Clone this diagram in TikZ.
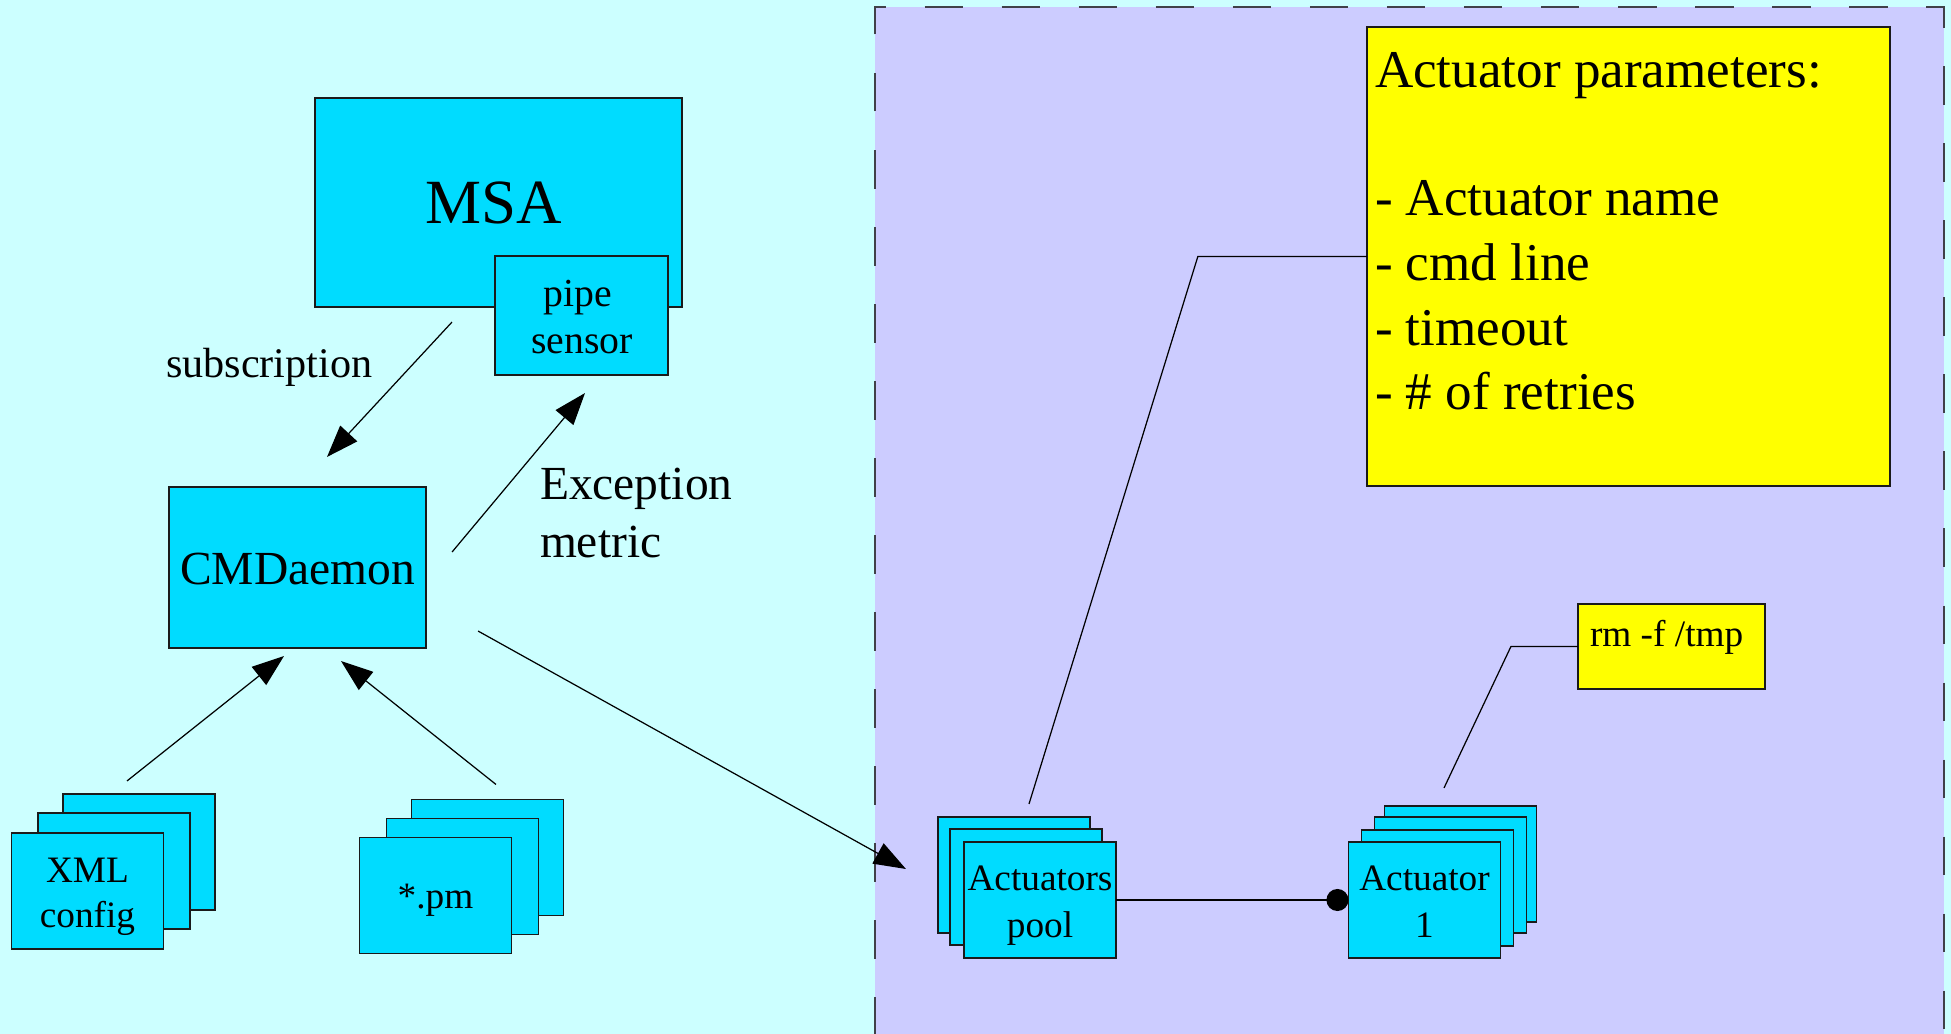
\documentclass[tikz,border=0pt]{standalone}
\usepackage{fontspec}
\setmainfont{Liberation Serif}
\usetikzlibrary{arrows.meta,calc}
\definecolor{bgcyan}{HTML}{CCFFFF}
\definecolor{bgviolet}{HTML}{CCCCFF}
\definecolor{boxcyan}{HTML}{00DCFF}
\definecolor{noteyellow}{HTML}{FFFF00}
\definecolor{edgecol}{HTML}{1A1A1A}
\definecolor{dashcol}{HTML}{404048}
\newcommand\fsSmall{\fontsize{10.6pt}{12.7pt}\selectfont}
\newcommand\fsPipe{\fontsize{11.3pt}{13.5pt}\selectfont}
\newcommand\fsSub{\fontsize{12pt}{14.4pt}\selectfont}
\newcommand\fsMid{\fontsize{13.5pt}{16pt}\selectfont}
\newcommand\fsParam{\fontsize{15.1pt}{18pt}\selectfont}
\newcommand\fsMSA{\fontsize{17.9pt}{21pt}\selectfont}
\begin{document}
\begin{tikzpicture}[x=0.01cm,y=-0.01cm,
  cbox/.style={draw=edgecol, line width=0.4pt, fill=boxcyan, inner sep=0pt, outer sep=0pt},
  stackbox/.style={cbox, minimum width=1.52cm, minimum height=1.16cm},
  notebox/.style={draw=edgecol, line width=0.4pt, fill=noteyellow, inner sep=0pt, outer sep=0pt},
  lbl/.style={inner sep=0pt, outer sep=0pt, text=black},
  conn/.style={draw=black, line width=0.35pt},
  arr/.style={conn, -{Triangle[length=0.32cm, width=0.23cm]}},
  dotarr/.style={conn, -{Circle[length=0.22cm]}},
  region/.style={draw=dashcol, line width=0.45pt, dash pattern=on 0.385cm off 0.385cm, dash phase=0.02cm}]
\useasboundingbox (0,0) rectangle (1951,1034);
\fill[bgcyan] (0,0) rectangle (1951,1034);
% right-hand region
\fill[bgviolet] (875,7) rectangle (1944,1034);
\draw[region] (875,1034) -- (875,7) -- (1944,7) -- (1944,1034);

% MSA and pipe sensor
\node[cbox, minimum width=3.67cm, minimum height=2.09cm] (msa) at (498.5,202.5) {};
\node[lbl, font=\fsMSA, anchor=base] (msaT) at (494,224) {MSA};
\node[cbox, minimum width=1.73cm, minimum height=1.19cm] (pipe) at (581.5,315.5) {};
\node[lbl, font=\fsPipe, anchor=base] (pipeA) at (578,307) {pipe};
\node[lbl, font=\fsPipe, anchor=base] (pipeB) at (582,354) {sensor};

% CMDaemon
\node[cbox, minimum width=2.57cm, minimum height=1.61cm] (cmd) at (297.5,567.5) {};
\node[lbl, font=\fsMid, anchor=base] (cmdT) at (297.5,584.5) {CMDaemon};

% labels
\node[lbl, font=\fsSub, anchor=base west] (subT) at (166,377.5) {subscription};
\node[lbl, font=\fsMid, anchor=base west] (excA) at (540,499.5) {Exception};
\node[lbl, font=\fsMid, anchor=base west] (excB) at (540,557.5) {metric};

% XML config stack
\node[stackbox] (xml3) at (139,852) {};
\node[stackbox] (xml2) at (114,871) {};
\node[stackbox] (xml1) at (87.5,891) {};
\node[lbl, font=\fsSmall, anchor=base] (xmlA) at (87.5,882.5) {XML};
\node[lbl, font=\fsSmall, anchor=base] (xmlB) at (87.5,928) {config};

% *.pm stack
\node[stackbox] (pm3) at (487.5,857.5) {};
\node[stackbox] (pm2) at (462.5,876.5) {};
\node[stackbox] (pm1) at (435.5,895.5) {};
\node[lbl, font=\fsSmall, anchor=base] (pmT) at (435.5,909) {*.pm};

% Actuators pool stack
\node[stackbox] (pool3) at (1014,875) {};
\node[stackbox] (pool2) at (1026,887) {};
\node[stackbox] (pool1) at (1040,900) {};
\node[lbl, font=\fsSmall, anchor=base] (poolA) at (1040,891) {Actuators};
\node[lbl, font=\fsSmall, anchor=base] (poolB) at (1040,937) {pool};

% Actuator 1 stack
\node[stackbox] (act4) at (1460.5,864) {};
\node[stackbox] (act3) at (1450.5,875) {};
\node[stackbox] (act2) at (1437.5,888) {};
\node[stackbox] (act1) at (1424.5,900) {};
\node[lbl, font=\fsSmall, anchor=base] (actA) at (1424.5,891) {Actuator};
\node[lbl, font=\fsSmall, anchor=base] (actB) at (1424.5,937) {1};

% notes
\node[notebox, minimum width=5.23cm, minimum height=4.59cm] (params) at (1628.5,256.5) {};
\node[lbl, font=\fsParam, anchor=base west] (parA) at (1375,87.5) {Actuator parameters:};
\node[lbl, font=\fsParam, anchor=base west] (parB) at (1375,215.5) {- Actuator name};
\node[lbl, font=\fsParam, anchor=base west] (parC) at (1375,280.5) {- cmd line};
\node[lbl, font=\fsParam, anchor=base west] (parD) at (1375,345.5) {- timeout};
\node[lbl, font=\fsParam, anchor=base west] (parE) at (1375,409.5) {- \# of retries};

\node[notebox, minimum width=1.87cm, minimum height=0.85cm] (rm) at (1671.5,646.5) {};
\node[lbl, font=\fsSmall, anchor=base west] (rmT) at (1590,647) {rm -f /tmp};

% connectors
\draw[arr] ($(msa.south)+(-46.5,15)$) -- ($(cmd.north)+(29.5,-30)$);
\draw[arr] ($(cmd.east)+(26,-15.5)$) -- ($(pipe.south)+(3.5,18)$);
\draw[arr] ($(xml3.north)+(-12,-13)$) -- ($(cmd.south)+(-13.5,8)$);
\draw[arr] ($(pm3.north)+(8.5,-15)$) -- ($(cmd.south)+(43.5,13)$);
\draw[arr] ($(cmd.south east)+(52,-17)$) -- ($(pool3.west)+(-32,-6)$);
\draw[dotarr] (pool1.east) -- (act1.west);
\draw[conn] (params.west) -- ++(-169,0) -- ($(pool3.north)+(15,-13)$);
\draw[conn] (rm.west) -- ++(-67,0) -- ($(act4.north)+(-16.5,-18)$);
\end{tikzpicture}
\end{document}
